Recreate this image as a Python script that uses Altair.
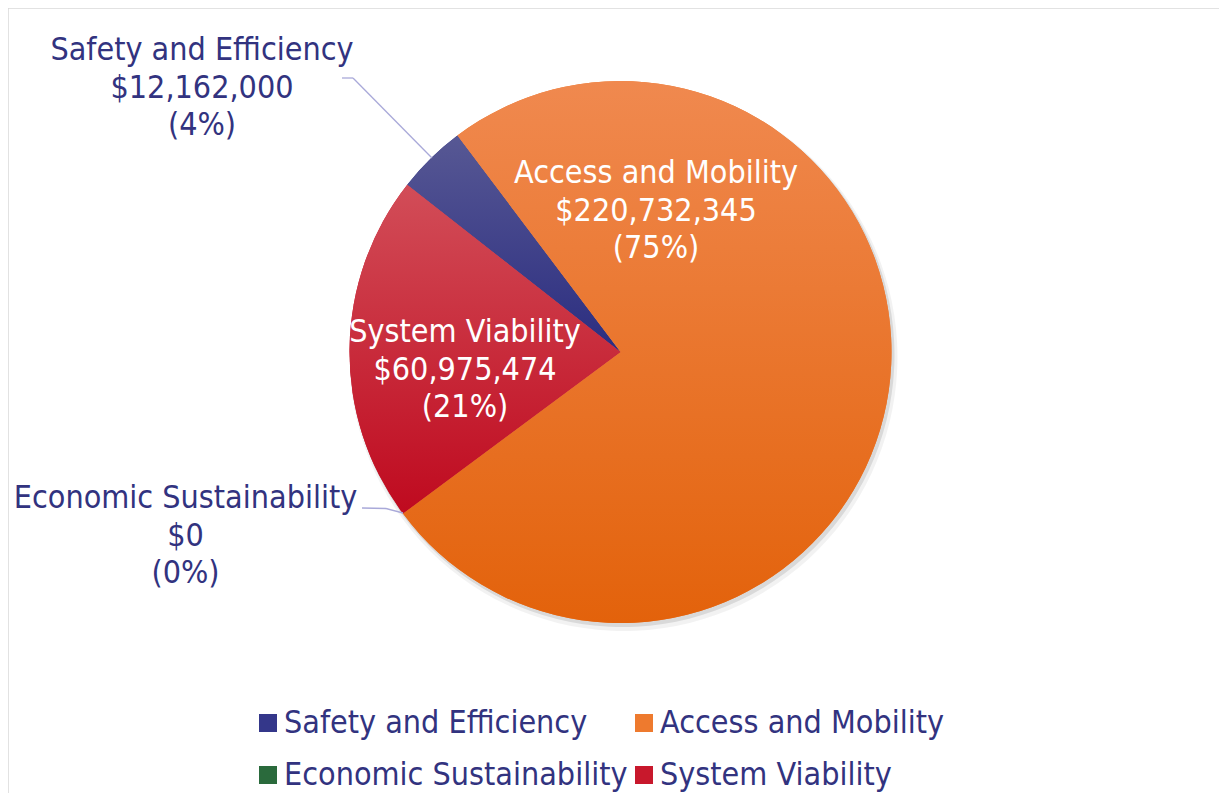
import math
import altair as alt
import pandas as pd

# ---- data ----
categories = ["Safety and Efficiency", "Access and Mobility", "Economic Sustainability", "System Viability"]
amounts = [12162000, 220732345, 0, 60975474]
legend_colors = ["#34378a", "#ee7a2e", "#2a6a3c", "#c8182c"]
gradient_colors = {
    "Safety and Efficiency": ("#575894", "#2b2d80"),
    "Access and Mobility": ("#f0894f", "#e3620b"),
    "Economic Sustainability": ("#3d7d4e", "#1f5a2f"),
    "System Viability": ("#d24d58", "#bf0a1f"),
}

df = pd.DataFrame({"category": categories, "amount": amounts, "order": list(range(len(categories)))})

# ---- layout / style ----
W, H = 1211, 785
CX, CY, R = 612.5, 344, 271
START = math.radians(308.1)
FONT = "DejaVu Sans Condensed, DejaVu Sans"
NAVY = "#32337f"
FS = 32
LH = 37.5

base = (
    alt.Chart(df)
    .transform_joinaggregate(total="sum(amount)")
    .transform_window(cum="sum(amount)", sort=[alt.SortField("order")], frame=[None, 0])
    .transform_calculate(
        end="datum.cum / datum.total",
        start="(datum.cum - datum.amount) / datum.total",
        pct="datum.amount / datum.total",
    )
    .transform_calculate(
        label="datum.category + '\\n$' + format(datum.amount, ',') + '\\n(' + format(datum.pct, '.0%') + ')'"
    )
)

theta_enc = alt.Theta("start:Q", scale=alt.Scale(domain=[0, 1], range=[START, START + 2 * math.pi]))
theta2_enc = alt.Theta2("end:Q")

# soft shadow
shadow1 = base.mark_arc(outerRadius=R + 3, x=CX + 3, y=CY + 5, fill="#000000", opacity=0.05).encode(
    theta=theta_enc, theta2=theta2_enc)
shadow2 = base.mark_arc(outerRadius=R + 1, x=CX + 2, y=CY + 3, fill="#000000", opacity=0.10).encode(
    theta=theta_enc, theta2=theta2_enc)

arcs = base.mark_arc(outerRadius=R, x=CX, y=CY).encode(
    theta=theta_enc,
    theta2=theta2_enc,
    color=alt.Color(
        "category:N",
        scale=alt.Scale(domain=categories, range=legend_colors),
        legend=alt.Legend(
            title=None,
            orient="none",
            legendX=244,
            legendY=699,
            direction="horizontal",
            columns=2,
            symbolType="square",
            symbolSize=324,
            symbolStrokeWidth=0,
            labelFontSize=FS,
            labelFont=FONT,
            labelColor=NAVY,
            labelLimit=800,
            labelOffset=0,
            columnPadding=0,
            rowPadding=20,
            padding=0,
        ),
    ),
)

grad_layers = []
for cat in categories:
    c1, c2 = gradient_colors[cat]
    grad_layers.append(
        base.transform_filter(alt.datum.category == cat)
        .mark_arc(
            outerRadius=R, x=CX, y=CY,
            fill=alt.Gradient(
                gradient="linear",
                stops=[alt.GradientStop(offset=0, color=c1), alt.GradientStop(offset=1, color=c2)],
                x1=0, y1=0, x2=0, y2=1,
            ),
        )
        .encode(theta=theta_enc, theta2=theta2_enc)
    )

# labels: (category, x, y of first line, colour)
label_spots = [
    ("Access and Mobility", 648, 165, "white"),
    ("System Viability", 457, 324, "white"),
    ("Safety and Efficiency", 194, 42, NAVY),
    ("Economic Sustainability", 177.5, 490, NAVY),
]
text_layers = []
for cat, lx, ly, col in label_spots:
    text_layers.append(
        base.transform_filter(alt.datum.category == cat)
        .mark_text(x=lx, y=ly, align="center", baseline="middle", lineBreak="\n",
                   lineHeight=LH, font=FONT, fontSize=FS, color=col)
        .encode(text="label:N")
    )

one = alt.Chart(df).transform_filter(alt.datum.order == 0)
LEAD = "#a9a9d9"
leaders = [
    one.mark_rule(color=LEAD, strokeWidth=1.3).encode(x=alt.value(334), x2=alt.value(345), y=alt.value(70), y2=alt.value(70)),
    one.mark_rule(color=LEAD, strokeWidth=1.3).encode(x=alt.value(345), x2=alt.value(424), y=alt.value(70), y2=alt.value(150)),
    one.mark_rule(color=LEAD, strokeWidth=1.3).encode(x=alt.value(354), x2=alt.value(378), y=alt.value(500), y2=alt.value(500.5)),
    one.mark_rule(color=LEAD, strokeWidth=1.3).encode(x=alt.value(378), x2=alt.value(395), y=alt.value(500.5), y2=alt.value(505)),
]
borders = [
    one.mark_rule(color="#d9d9d9", strokeWidth=1.5).encode(x=alt.value(0), x2=alt.value(W + 20), y=alt.value(0), y2=alt.value(0)),
    one.mark_rule(color="#d9d9d9", strokeWidth=1.5).encode(x=alt.value(0), x2=alt.value(0), y=alt.value(0), y2=alt.value(H + 30)),
]

chart = (
    alt.layer(shadow1, shadow2, arcs, *grad_layers, *leaders, *text_layers, *borders)
    .properties(width=W, height=H, autosize=alt.AutoSizeParams(type="none"), padding=0)
    .configure_view(stroke=None)
)

chart.save("out.html", embed_options={"renderer": "svg", "actions": False})
